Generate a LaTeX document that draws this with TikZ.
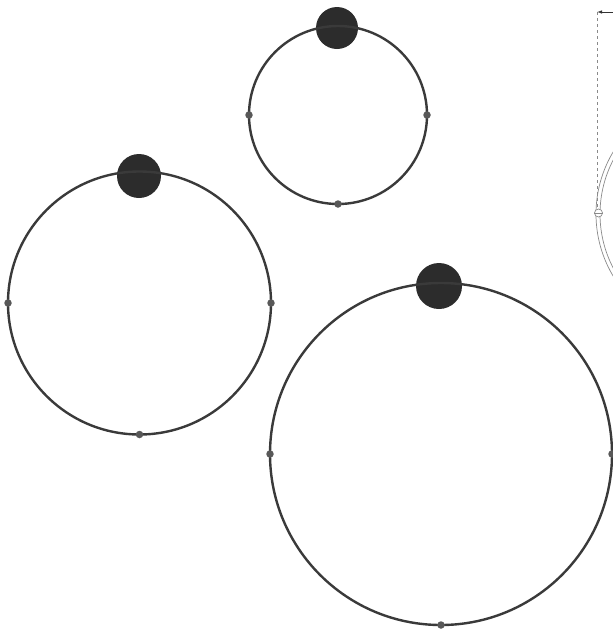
\documentclass[tikz,border=0pt]{standalone}
\usepackage{tikz}
\usetikzlibrary{arrows.meta,positioning,calc}
\definecolor{ringgray}{HTML}{3A3A3A}
\definecolor{knobgray}{HTML}{2C2C2C}
\definecolor{guidegray}{HTML}{8A8A8A}
\tikzset{
  ring/.style={circle, draw=ringgray, line width=2.4pt, inner sep=0pt, outer sep=0pt},
  knob/.style={circle, fill=knobgray, minimum size=44pt, inner sep=0pt},
  dot/.style={circle, fill=ringgray!85, minimum size=7.5pt, inner sep=0pt},
  guide/.style={draw=guidegray, line width=0.7pt},
  thinarrow/.style={-{Latex[length=5pt,width=3.5pt]}, line width=0.8pt, draw=black!80}
}

\begin{document}
\begin{tikzpicture}[x=1pt,y=-1pt]
\useasboundingbox (0,0) rectangle (613,630);
\clip (0,0) rectangle (613,630);

% small ring
\node[knob, minimum size=42pt] (knobA) at (337,28) {};
\node[ring, minimum size=178pt] (ringA) at (338,115) {};
\node[dot] (aw) at (ringA.west) {};
\node[dot] (ae) at (ringA.east) {};
\node[dot] (as) at (ringA.south) {};

% middle ring
\node[knob] (knobB) at (139,176) {};
\node[ring, minimum size=263pt] (ringB) at (139.5,303) {};
\node[dot] (bw) at (ringB.west) {};
\node[dot] (be) at (ringB.east) {};
\node[dot] (bs) at (ringB.south) {};

% big ring
\node[knob, minimum size=46pt] (knobC) at (439,286) {};
\node[ring, minimum size=342pt] (ringC) at (441,454) {};
\node[dot] (cw) at (ringC.west) {};
\node[dot] (ce) at (ringC.east) {};
\node[dot] (cs) at (ringC.south) {};

% cut-off guide on the right
\coordinate (hub) at (717,214);
\draw[guide] (hub) ++(148:121) arc[start angle=148, end angle=212, radius=121];
\draw[guide] (hub) ++(145:117) arc[start angle=145, end angle=215, radius=117];
\node[circle, draw=guidegray, line width=0.7pt, fill=white, minimum size=8pt, inner sep=0pt] (pin) at (598.5,213) {};
\draw[guide, line width=0.5pt] (pin.west) -- (pin.east);
\coordinate (tip) at (597,12);
\coordinate (tail) at (614,12);
\draw[guide, dashed, line width=0.6pt] (tip) -- (pin.north -| tip);
\draw[thinarrow] (tail) -- (tip);
\end{tikzpicture}
\end{document}
